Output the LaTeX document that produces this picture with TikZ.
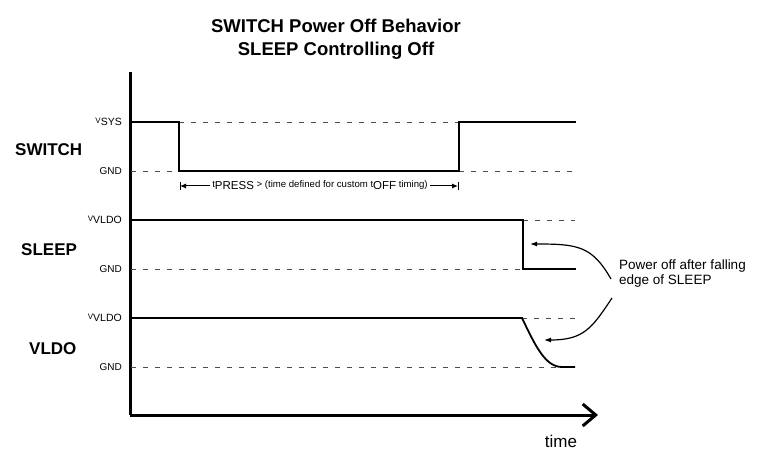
\documentclass[tikz,border=0pt]{standalone}
\usepackage{fontspec}
\setmainfont{Liberation Sans}
\usetikzlibrary{arrows.meta}
\newcommand{\lvlsub}[2]{{\fontsize{8}{9}\selectfont #1}\raisebox{-0.35ex}{\fontsize{10.5}{12}\selectfont #2}}
\newcommand{\tpsub}[2]{{#1}\raisebox{-0.45ex}{\fontsize{11.5}{13}\selectfont #2}}
\begin{document}
\begin{tikzpicture}[x=1pt,y=-1pt,
  sig/.style={line width=1.8pt,line cap=rect},
  dsh/.style={line width=0.9pt,draw=black!70,dash pattern=on 5pt off 7pt},
  lvl/.style={anchor=east,inner sep=0pt},
  gnd/.style={anchor=east,font=\fontsize{10}{12}\selectfont,inner sep=0pt},
  signame/.style={anchor=west,font=\bfseries\fontsize{17}{20}\selectfont,inner sep=0pt},
  ttl/.style={anchor=base,font=\bfseries\fontsize{18.5}{22}\selectfont,inner sep=0pt},
  ann/.style={-{Latex[length=7pt,width=5pt]},line width=1.2pt}]
\useasboundingbox (0,0) rectangle (781,470);
% title
\node[ttl] (title1) at (336,33) {SWITCH Power Off Behavior};
\node[ttl] (title2) at (336,56) {SLEEP Controlling Off};
% axes
\coordinate (o) at (130,415);
\coordinate (ytop) at (130,72);
\coordinate (xend) at (598,415);
\draw[line width=3pt] (ytop) -- (o);
\draw[line width=3pt,-{Straight Barb[length=13pt,width=22pt,line width=3pt]}] (o) -- (xend);
\node[font=\fontsize{17}{20}\selectfont,anchor=base,inner sep=0pt] (time) at (561,447) {time};
% SWITCH
\node[signame] (nsw) at (15,150) {SWITCH};
\node[lvl] (vsys) at (122,122) {\lvlsub{V}{SYS}};
\node[gnd] (g1) at (122,171) {GND};
\draw[dsh] (179,122) -- (459,122);
\draw[dsh] (131,171) -- (179,171);
\draw[dsh] (459,171) -- (575,171);
\draw[sig] (131,122) -- (179,122) -- (179,171) -- (459,171) -- (459,122) -- (575,122);
% tpress annotation
\node[font=\fontsize{9.6}{11}\selectfont,inner sep=2pt] (tp) at (320,185) {\tpsub{t}{PRESS} {>} (time defined for custom \tpsub{t}{OFF} timing)};
\coordinate (tpl) at (180,186);
\coordinate (tpr) at (458,186);
\draw[line width=1pt] (180,182) -- (180,190);
\draw[line width=1pt] (458,182) -- (458,190);
\draw[line width=1pt,-{Latex[length=6pt,width=5pt]}] (tp.west |- tpl) -- (tpl);
\draw[line width=1pt,-{Latex[length=6pt,width=5pt]}] (tp.east |- tpr) -- (tpr);
% SLEEP
\node[signame] (nsl) at (21,250) {SLEEP};
\node[lvl] (v2) at (122,220) {\lvlsub{V}{VLDO}};
\node[gnd] (g2) at (122,269) {GND};
\draw[dsh] (523,220) -- (575,220);
\draw[dsh] (131,269) -- (523,269);
\draw[sig] (131,220) -- (523,220) -- (523,269) -- (575,269);
% VLDO
\node[signame] (nvl) at (29,349) {VLDO};
\node[lvl] (v3) at (122,318) {\lvlsub{V}{VLDO}};
\node[gnd] (g3) at (122,367) {GND};
\draw[dsh] (522,318) -- (575,318);
\draw[dsh] (131,367) -- (557,367);
\draw[sig,line cap=butt] (131,318) -- (522,318) .. controls (535,345) and (545,367) .. (562,367) -- (575,367);
% note
\node[anchor=base west,align=left,font=\fontsize{13.5}{15}\selectfont,inner sep=0pt] (note) at (619,284) {Power off after falling\\edge of SLEEP};
\coordinate (a1s) at (611,279);
\coordinate (a1e) at (530,244);
\coordinate (a2s) at (612,298);
\coordinate (a2e) at (544,340);
\draw[ann] (a1s) .. controls (592,246) and (578,244) .. (a1e);
\draw[ann] (a2s) .. controls (592,328) and (584,340) .. (a2e);
\end{tikzpicture}
\end{document}
